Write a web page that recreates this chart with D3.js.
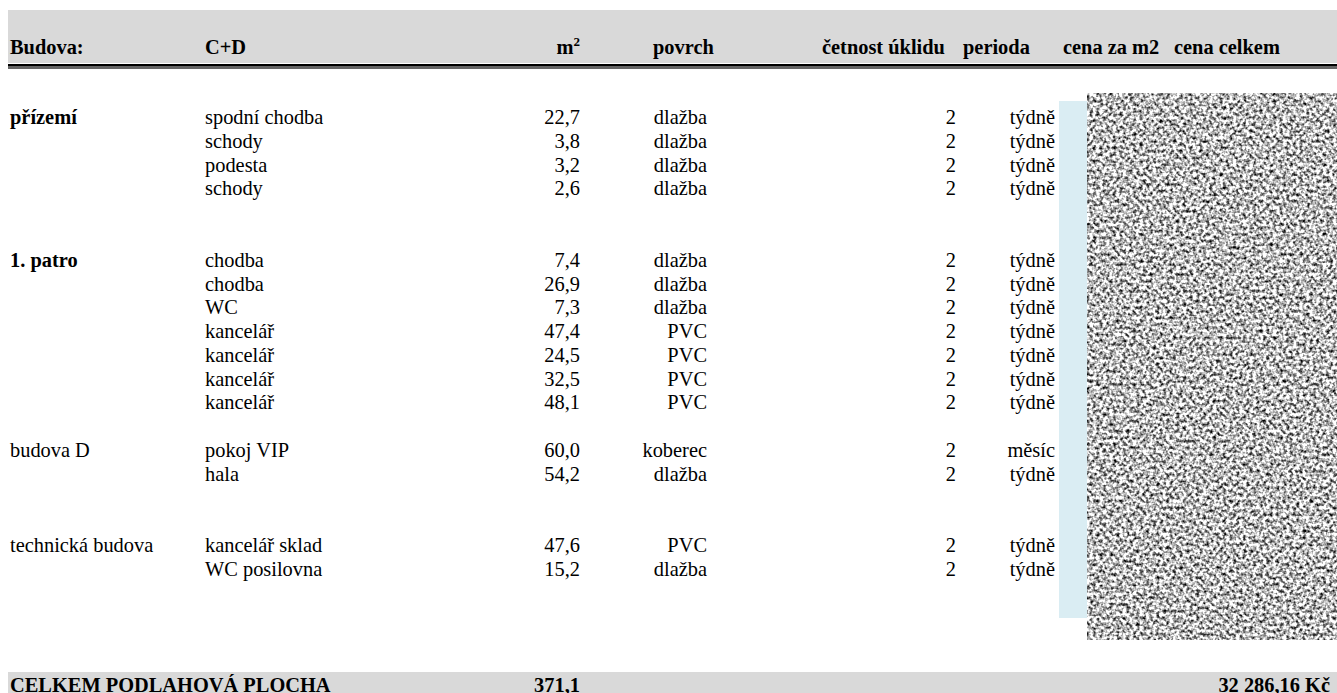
<!DOCTYPE html>
<html><head><meta charset="utf-8">
<script src="https://cdn.jsdelivr.net/npm/d3@7"></script>
<style>
body{margin:0;background:#fff;}
svg{display:block;font-family:"Liberation Serif","Times New Roman",serif;}
</style>
</head><body>
<svg id="c" width="1337" height="693"></svg>
<script>
// ---- data ----
const headerLabels = ["Budova:", "C+D", "m", "povrch", "četnost úklidu", "perioda", "cena za m2", "cena celkem"];
const groups = ["přízemí", "1. patro", "budova D", "technická budova"];
const groupBold = [true, true, false, false];
const rooms = ["spodní chodba", "schody", "podesta", "schody",
  "chodba", "chodba", "WC", "kancelář", "kancelář", "kancelář", "kancelář",
  "pokoj VIP", "hala", "kancelář sklad", "WC posilovna"];
const roomGroup = [0,0,0,0, 1,1,1,1,1,1,1, 2,2, 3,3];
const rowSlot = [0,1,2,3, 6,7,8,9,10,11,12, 14,15, 18,19];
const areas = [22.7, 3.8, 3.2, 2.6, 7.4, 26.9, 7.3, 47.4, 24.5, 32.5, 48.1, 60.0, 54.2, 47.6, 15.2];
const surfaces = ["dlažba","dlažba","dlažba","dlažba","dlažba","dlažba","dlažba","PVC","PVC","PVC","PVC","koberec","dlažba","PVC","dlažba"];
const frequency = [2,2,2,2,2,2,2,2,2,2,2,2,2,2,2];
const periods = ["týdně","týdně","týdně","týdně","týdně","týdně","týdně","týdně","týdně","týdně","týdně","měsíc","týdně","týdně","týdně"];
const totalLabel = "CELKEM PODLAHOVÁ PLOCHA";
const totalArea = 371.1;
const totalPrice = 32286.16;

// ---- layout ----
const W = 1337, H = 693, FS = 20.4;
const svg = d3.select("#c");
const loc = d3.formatLocale({decimal: ",", thousands: " ", grouping: [3], currency: ["", " Kč"]});
const f1 = loc.format(".1f"), fMoney = loc.format("$,.2f");

const y = d3.scaleLinear().domain([0, 19]).range([124, 576]);

// header columns: [x, anchor]
const headerPos = [[10,"start"],[205,"start"],[580,"end"],[653,"start"],[822,"start"],[963,"start"],[1063,"start"],[1174,"start"]];

const defs = svg.append("defs");
const flt = defs.append("filter").attr("id","noise").attr("x",0).attr("y",0).attr("width","100%").attr("height","100%")
  .attr("color-interpolation-filters","sRGB");
flt.append("feTurbulence").attr("type","fractalNoise").attr("baseFrequency","0.3").attr("numOctaves",2).attr("seed",7);
flt.append("feGaussianBlur").attr("stdDeviation",0.4);
flt.append("feColorMatrix").attr("type","matrix")
  .attr("values","2.3 0 0 0 -0.42  2.3 0 0 0 -0.42  2.3 0 0 0 -0.42  0 0 0 0 1");

// header band
svg.append("rect").attr("x",8).attr("y",10).attr("width",W-8).attr("height",53).attr("fill","#d9d9d9");
svg.append("rect").attr("x",8).attr("y",64).attr("width",W-8).attr("height",2.6).attr("fill","#000");
svg.append("rect").attr("x",8).attr("y",67.4).attr("width",W-8).attr("height",1.2).attr("fill","#000");

const hdr = svg.append("g").attr("font-weight","bold").attr("font-size",FS);
headerLabels.forEach((t,i)=>{
  const tx = hdr.append("text").attr("x",headerPos[i][0]).attr("y",54).attr("text-anchor",headerPos[i][1]);
  if (i === 2) {
    tx.append("tspan").text(t);
    tx.append("tspan").attr("font-size",13).attr("dy",-8).text("2");
  } else tx.text(t);
});

// blue strip and redacted block
svg.append("rect").attr("x",1059).attr("y",101).attr("width",28).attr("height",517).attr("fill","#daedf3");
svg.append("rect").attr("x",1087).attr("y",93).attr("width",W-1087).attr("height",547).attr("fill","#fff").attr("filter","url(#noise)");

// body
const body = svg.append("g").attr("font-size",FS).attr("fill","#000");
const firstOfGroup = rooms.map((r,i)=> i===0 || roomGroup[i]!==roomGroup[i-1]);
body.selectAll("text.g").data(rooms.map((r,i)=>i).filter(i=>firstOfGroup[i])).join("text")
  .attr("x",10).attr("y",i=>y(rowSlot[i]))
  .attr("font-weight",i=>groupBold[roomGroup[i]]?"bold":"normal")
  .text(i=>groups[roomGroup[i]]);
body.selectAll("text.r").data(rooms).join("text").attr("x",205).attr("y",(d,i)=>y(rowSlot[i])).text(d=>d);
body.selectAll("text.a").data(areas).join("text").attr("x",580).attr("y",(d,i)=>y(rowSlot[i])).attr("text-anchor","end").text(d=>f1(d));
body.selectAll("text.s").data(surfaces).join("text").attr("x",707).attr("y",(d,i)=>y(rowSlot[i])).attr("text-anchor","end").text(d=>d);
body.selectAll("text.f").data(frequency).join("text").attr("x",956).attr("y",(d,i)=>y(rowSlot[i])).attr("text-anchor","end").text(d=>d);
body.selectAll("text.p").data(periods).join("text").attr("x",1055).attr("y",(d,i)=>y(rowSlot[i])).attr("text-anchor","end").text(d=>d);

// total
svg.append("rect").attr("x",8).attr("y",672).attr("width",W-8).attr("height",H-672).attr("fill","#d9d9d9");
const tot = svg.append("g").attr("font-weight","bold").attr("font-size",FS);
tot.append("text").attr("x",10).attr("y",692).text(totalLabel);
tot.append("text").attr("x",580).attr("y",692).attr("text-anchor","end").text(f1(totalArea));
tot.append("text").attr("x",1330).attr("y",692).attr("text-anchor","end").text(fMoney(totalPrice));
</script>
</body></html>
